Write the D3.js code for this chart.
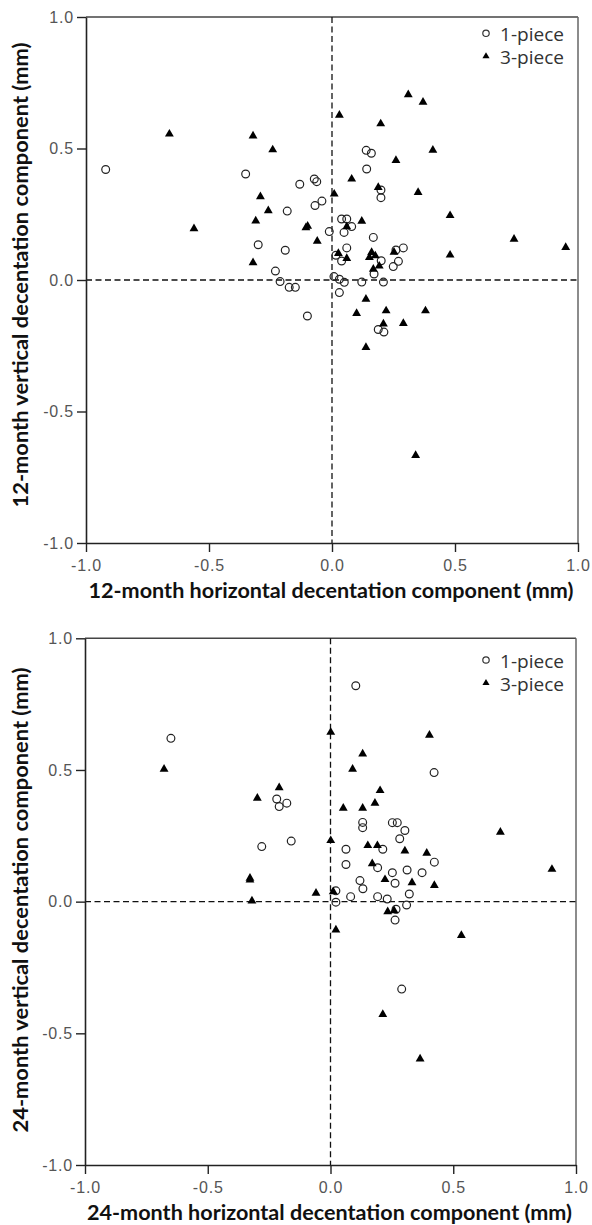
<!DOCTYPE html>
<html>
<head>
<meta charset="utf-8">
<script src="https://cdn.jsdelivr.net/npm/d3@7"></script>
<style>
  html, body { margin: 0; padding: 0; background: #fff; }
  svg { display: block; }
</style>
</head>
<body>
<svg id="chart" width="592" height="1225"></svg>
<script>
// ---------- DATA ----------
const xTicks = [-1.0, -0.5, 0.0, 0.5, 1.0];
const yTicks = [-1.0, -0.5, 0.0, 0.5, 1.0];
const seriesNames = ["1-piece", "3-piece"];

// 12-month, 1-piece
const m12OneX = [-0.92, -0.351, -0.131, -0.072, -0.062, -0.041, -0.069, 0.139, 0.16, 0.141, 0.199, 0.199, -0.182, -0.011, -0.3, -0.19, -0.23, -0.211, -0.174, -0.149, -0.1, 0.039, 0.06, 0.08, 0.049, 0.168, 0.06, 0.29, 0.26, 0.016, 0.039, 0.2, 0.27, 0.249, 0.171, 0.008, 0.03, 0.05, 0.121, 0.209, 0.03, 0.188, 0.211];
const m12OneY = [0.42, 0.403, 0.364, 0.384, 0.374, 0.30, 0.283, 0.493, 0.482, 0.422, 0.342, 0.313, 0.262, 0.184, 0.134, 0.113, 0.034, -0.006, -0.028, -0.028, -0.137, 0.232, 0.232, 0.203, 0.181, 0.162, 0.122, 0.122, 0.114, 0.094, 0.072, 0.073, 0.071, 0.051, 0.023, 0.013, 0.003, -0.009, -0.008, -0.008, -0.048, -0.188, -0.198];
// 12-month, 3-piece
const m12ThreeX = [-0.661, -0.321, -0.241, 0.03, -0.291, 0.009, 0.31, 0.37, 0.198, 0.41, 0.26, 0.08, 0.188, 0.35, -0.259, -0.31, -0.561, -0.106, -0.099, -0.06, -0.321, 0.48, 0.121, 0.06, 0.74, 0.95, 0.252, 0.161, 0.48, 0.026, 0.06, 0.152, 0.176, 0.192, 0.168, 0.138, 0.1, 0.22, 0.38, 0.209, 0.29, 0.138, 0.34];
const m12ThreeY = [0.555, 0.548, 0.495, 0.627, 0.317, 0.327, 0.705, 0.676, 0.594, 0.494, 0.455, 0.384, 0.352, 0.333, 0.264, 0.225, 0.195, 0.199, 0.205, 0.148, 0.066, 0.245, 0.224, 0.203, 0.155, 0.124, 0.106, 0.105, 0.095, 0.101, 0.082, 0.086, 0.092, 0.053, 0.041, -0.073, -0.127, -0.117, -0.117, -0.167, -0.165, -0.256, -0.667];

// 24-month, 1-piece
const m24OneX = [-0.65, -0.219, -0.178, -0.209, -0.16, -0.28, 0.022, 0.022, 0.103, 0.422, 0.131, 0.131, 0.252, 0.272, 0.303, 0.282, 0.213, 0.063, 0.423, 0.063, 0.192, 0.252, 0.312, 0.373, 0.12, 0.263, 0.132, 0.082, 0.321, 0.192, 0.231, 0.31, 0.267, 0.263, 0.29];
const m24OneY = [0.62, 0.39, 0.374, 0.361, 0.23, 0.209, 0.041, -0.002, 0.82, 0.49, 0.301, 0.281, 0.30, 0.30, 0.27, 0.239, 0.199, 0.199, 0.15, 0.141, 0.129, 0.11, 0.12, 0.11, 0.08, 0.07, 0.049, 0.019, 0.029, 0.019, 0.01, -0.013, -0.029, -0.07, -0.332];
// 24-month, 3-piece
const m24ThreeX = [-0.678, 0.001, -0.209, -0.298, 0.001, -0.328, -0.328, -0.32, -0.059, 0.011, 0.022, 0.403, 0.131, 0.09, 0.202, 0.181, 0.052, 0.131, 0.692, 0.152, 0.191, 0.303, 0.392, 0.17, 0.902, 0.222, 0.332, 0.423, 0.233, 0.259, 0.533, 0.213, 0.365];
const m24ThreeY = [0.503, 0.643, 0.433, 0.393, 0.232, 0.089, 0.082, 0.003, 0.032, 0.038, -0.107, 0.632, 0.561, 0.503, 0.422, 0.374, 0.355, 0.355, 0.264, 0.213, 0.213, 0.193, 0.184, 0.144, 0.123, 0.084, 0.072, 0.062, -0.038, -0.034, -0.128, -0.428, -0.597];

const xTitles = ["12-month horizontal decentation component (mm)", "24-month horizontal decentation component (mm)"];
const yTitles = ["12-month vertical decentation component (mm)", "24-month vertical decentation component (mm)"];

// ---------- DRAW ----------
const svg = d3.select("#chart");
const fmt = v => v.toFixed(1);
const tickFont = "'Liberation Sans', Arial, sans-serif";
const titleFont = "Lato, 'Open Sans', sans-serif";

function zip(xs, ys) { return xs.map((x, i) => ({ x: x, y: ys[i] })); }

const panels = [
  { left: 86, right: 578, top: 17, bottom: 543, one: zip(m12OneX, m12OneY), three: zip(m12ThreeX, m12ThreeY),
    xTitle: xTitles[0], yTitle: yTitles[0], xTitleY: 598, yTitleC: 275, legY: 33.3 },
  { left: 85, right: 576, top: 638.3, bottom: 1165, one: zip(m24OneX, m24OneY), three: zip(m24ThreeX, m24ThreeY),
    xTitle: xTitles[1], yTitle: yTitles[1], xTitleY: 1220, yTitleC: 900, legY: 660 }
];

const tri = d3.symbol().type(d3.symbolTriangle).size(34)();
const triLeg = d3.symbol().type(d3.symbolTriangle).size(22)();

panels.forEach(p => {
  const x = d3.scaleLinear().domain([-1, 1]).range([p.left, p.right]);
  const y = d3.scaleLinear().domain([-1, 1]).range([p.bottom, p.top]);
  const g = svg.append("g");

  // frame top/right
  g.append("line").attr("x1", p.left).attr("x2", p.right).attr("y1", p.top).attr("y2", p.top)
    .attr("stroke", "#444").attr("stroke-width", 1.5);
  g.append("line").attr("x1", p.right).attr("x2", p.right).attr("y1", p.top).attr("y2", p.bottom)
    .attr("stroke", "#666").attr("stroke-width", 1.5);

  // reference dashed lines at 0
  g.append("line").attr("x1", x(0)).attr("x2", x(0)).attr("y1", p.top).attr("y2", p.bottom)
    .attr("stroke", "#111").attr("stroke-width", 1.3).attr("stroke-dasharray", "6,3.5");
  g.append("line").attr("x1", p.left).attr("x2", p.right).attr("y1", y(0)).attr("y2", y(0))
    .attr("stroke", "#111").attr("stroke-width", 1.3).attr("stroke-dasharray", "6,3.5");

  // axes
  const ax = g.append("g").attr("transform", `translate(0,${p.bottom})`)
    .call(d3.axisBottom(x).tickValues(xTicks).tickFormat(fmt).tickSize(9).tickSizeOuter(0).tickPadding(8));
  const ay = g.append("g").attr("transform", `translate(${p.left},0)`)
    .call(d3.axisLeft(y).tickValues(yTicks).tickFormat(fmt).tickSize(9).tickSizeOuter(0).tickPadding(3));
  [ax, ay].forEach(a => {
    a.select(".domain").attr("stroke", "#222").attr("stroke-width", 1.6);
    a.selectAll(".tick line").attr("stroke", "#222").attr("stroke-width", 1.4);
    a.selectAll(".tick text").attr("fill", "#555").style("font-family", tickFont)
      .style("font-size", "16px").style("letter-spacing", "0.8px");
  });

  // points: 1-piece open circles
  g.append("g").selectAll("circle").data(p.one).join("circle")
    .attr("cx", d => x(d.x)).attr("cy", d => y(d.y)).attr("r", 3.9)
    .attr("fill", "none").attr("stroke", "#222").attr("stroke-width", 1.2);
  // 3-piece filled triangles
  g.append("g").selectAll("path").data(p.three).join("path")
    .attr("d", tri).attr("transform", d => `translate(${x(d.x)},${y(d.y)})`)
    .attr("fill", "#000");

  // legend
  const lg = g.append("g");
  lg.append("circle").attr("cx", 486).attr("cy", p.legY).attr("r", 3.2)
    .attr("fill", "none").attr("stroke", "#333").attr("stroke-width", 1.2);
  lg.append("path").attr("d", triLeg).attr("transform", `translate(486,${p.legY + 23})`).attr("fill", "#000");
  seriesNames.forEach((s, i) => {
    lg.append("text").attr("x", 500).attr("y", p.legY + 7.5 + i * 23.5)
      .attr("textLength", 64).attr("lengthAdjust", "spacingAndGlyphs")
      .style("font-family", "'Open Sans', sans-serif").style("font-size", "18px").attr("fill", "#333")
      .text(s);
  });

  // titles
  g.append("text").attr("x", (p.left + p.right) / 2 - 1).attr("y", p.xTitleY)
    .attr("text-anchor", "middle").attr("textLength", 485).attr("lengthAdjust", "spacingAndGlyphs")
    .style("font-family", titleFont).style("font-weight", "bold").style("font-size", "20px").attr("fill", "#111")
    .text(p.xTitle);
  g.append("text").attr("transform", `translate(28,${p.yTitleC}) rotate(-90)`)
    .attr("text-anchor", "middle").attr("textLength", 465).attr("lengthAdjust", "spacingAndGlyphs")
    .style("font-family", titleFont).style("font-weight", "bold").style("font-size", "20px").attr("fill", "#111")
    .text(p.yTitle);
});
</script>
</body>
</html>
